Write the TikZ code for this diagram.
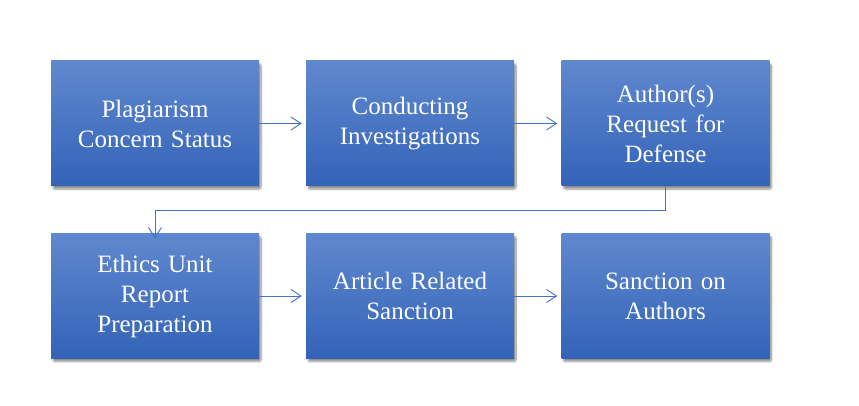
\documentclass[tikz,border=0pt]{standalone}
\usepackage{fontspec}
\setmainfont{Liberation Serif}
\usetikzlibrary{shadows.blur,arrows.meta}
\definecolor{boxtop}{HTML}{6088CE}
\definecolor{boxbot}{HTML}{3363B8}
\definecolor{linecol}{HTML}{4472C4}
\tikzset{
  stepbox/.style={rectangle, minimum width=208pt, minimum height=125pt, inner sep=0pt,
    top color=boxtop, bottom color=boxbot, text=white, align=center,
    font=\fontsize{25}{30}\selectfont, text width=200pt,
    blur shadow={shadow xshift=2pt, shadow yshift=-3pt, shadow blur steps=8, shadow blur extra rounding=2pt, shadow opacity=45}},
  conn/.style={draw=linecol, line width=0.9pt, -{Straight Barb[length=10pt,width=13pt,line width=0.9pt]}}
}
\begin{document}
\begin{tikzpicture}[x=1pt,y=-1pt]
\useasboundingbox (0,0) rectangle (859,406);
\node[stepbox] (b1) at (155,123.5) {Plagiarism\\Concern Status};
\node[stepbox] (b2) at (410,123.5) {Conducting\\Investigations};
\node[stepbox] (b3) at (665.5,123.5) {Author(s)\\Request for\\Defense};
\node[stepbox] (b4) at (155,296) {Ethics Unit\\Report\\Preparation};
\node[stepbox] (b5) at (410,296) {Article Related\\Sanction};
\node[stepbox] (b6) at (665.5,296) {Sanction on\\Authors};
\draw[conn] (b1.east) -- ([xshift=-4pt]b2.west);
\draw[conn] (b2.east) -- ([xshift=-4pt]b3.west);
\draw[conn] (b4.east) -- ([xshift=-4pt]b5.west);
\draw[conn] (b5.east) -- ([xshift=-4pt]b6.west);
\coordinate (elbow) at (665.5,210);
\draw[conn] (b3.south) -- (elbow) -| ([yshift=-5pt]b4.north);
\end{tikzpicture}
\end{document}
